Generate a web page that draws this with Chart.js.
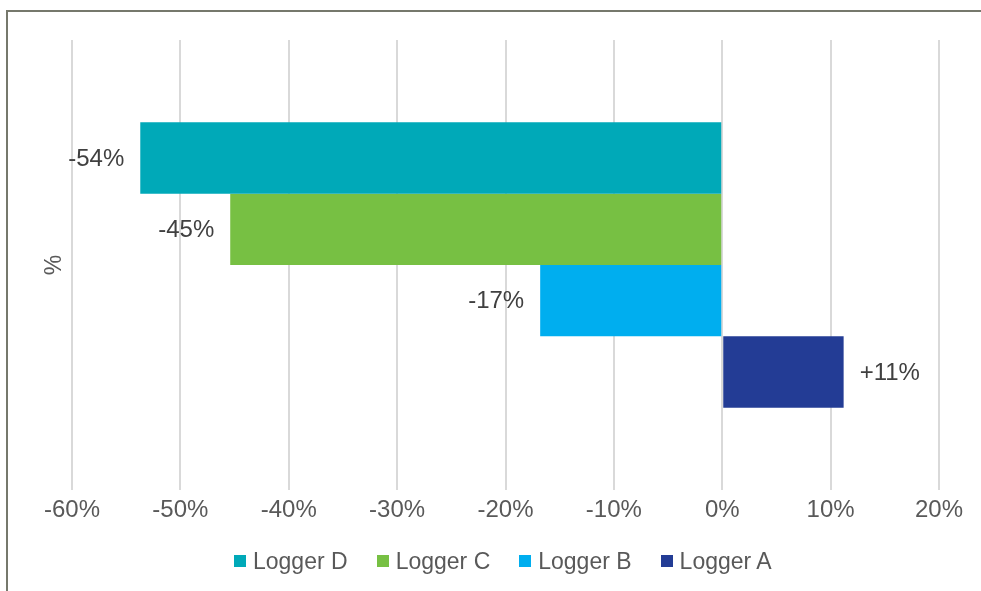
<!DOCTYPE html>
<html>
<head>
<meta charset="utf-8">
<script src="https://cdn.jsdelivr.net/npm/chart.js@4"></script>
<style>
    html, body { margin: 0; padding: 0; background: #fff; }
    #wrap { position: relative; width: 981px; height: 591px; overflow: hidden; }
    #frame {
        position: absolute; left: 6px; top: 10px; right: 0; bottom: 0;
        border-left: 2px solid #76786c; border-top: 2px solid #76786c;
    }
    #chart { position: absolute; left: 0; top: 0; }
    #legend {
        position: absolute; left: 234px; top: 547px;
        display: flex; font: 23px "Liberation Sans", Arial, sans-serif; color: #595959;
        line-height: 28px;
    }
    .item { display: flex; align-items: center; margin-right: 29px; }
    .box { width: 12px; height: 12px; margin-right: 7px; }
</style>
</head>
<body>
<div id="wrap">
    <div id="frame"></div>
    <canvas id="chart" width="981" height="591"></canvas>
    <div id="legend"></div>
</div>
<script>
const CATEGORIES = ["%"];
const SERIES = ["Logger D", "Logger C", "Logger B", "Logger A"];
const VALUES = [-53.7, -45.4, -16.8, 11.2];
const LABELS = ["-54%", "-45%", "-17%", "+11%"];
const COLORS = ["#00a9b8", "#77c043", "#00aeef", "#233c95"];
const X_MIN = -60, X_MAX = 20, X_STEP = 10;

const FONT = "'Liberation Sans', Arial, sans-serif";

// ── Value labels beside each bar ──
const barLabels = {
    id: "barLabels",
    afterDatasetsDraw(chart) {
        const ctx = chart.ctx;
        ctx.save();
        ctx.font = "24px " + FONT;
        ctx.fillStyle = "#404040";
        ctx.textBaseline = "middle";
        chart.data.datasets.forEach((ds, i) => {
            const bar = chart.getDatasetMeta(i).data[0];
            const neg = ds.data[0] < 0;
            ctx.textAlign = neg ? "right" : "left";
            ctx.fillText(LABELS[i], bar.x + (neg ? -16 : 16), bar.y + 1);
        });
        ctx.restore();
    },
};

new Chart(document.getElementById("chart"), {
    type: "bar",
    data: {
        labels: CATEGORIES,
        datasets: SERIES.map((name, i) => ({
            label: name,
            data: [VALUES[i]],
            backgroundColor: COLORS[i],
            borderWidth: 0,
            barPercentage: 1,
            categoryPercentage: 0.634,
        })),
    },
    options: {
        indexAxis: "y",
        responsive: false,
        animation: false,
        layout: { padding: { top: 40, right: 42, bottom: 61, left: 0 } },
        plugins: { legend: { display: false }, tooltip: { enabled: false } },
        scales: {
            x: {
                min: X_MIN,
                max: X_MAX,
                ticks: {
                    stepSize: X_STEP,
                    padding: 6,
                    color: "#595959",
                    font: { size: 24, family: FONT },
                    callback: (v) => v + "%",
                },
                grid: { color: "#d9d9d9", lineWidth: 2, drawTicks: false },
                border: { display: false },
                afterFit: (axis) => { axis.height = 40; },
            },
            y: {
                ticks: { display: false },
                grid: { display: false },
                border: { display: false },
                title: {
                    display: true,
                    text: CATEGORIES[0],
                    color: "#595959",
                    font: { size: 23, family: FONT },
                    padding: { top: 41, bottom: 0 },
                },
                afterFit: (axis) => { axis.width = 72; },
            },
        },
    },
    plugins: [barLabels],
});

// ── Legend ──
const legend = document.getElementById("legend");
SERIES.forEach((name, i) => {
    const item = document.createElement("div");
    item.className = "item";
    item.innerHTML = `<span class="box" style="background:${COLORS[i]}"></span><span>${name}</span>`;
    legend.appendChild(item);
});
</script>
</body>
</html>
